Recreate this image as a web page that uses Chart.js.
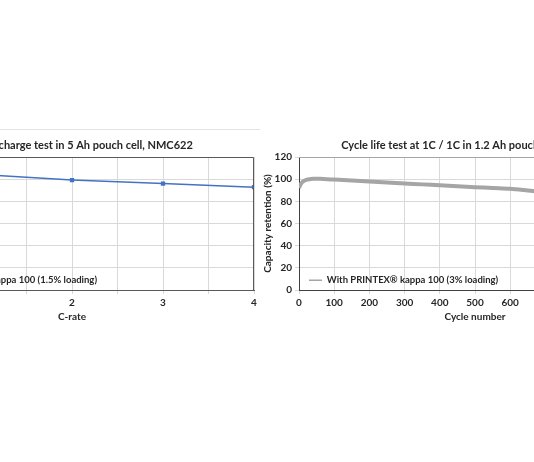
<!DOCTYPE html>
<html lang="en">
<head>
  <meta charset="UTF-8" />
  <title>PRINTEX kappa 100 - cell tests</title>
  <script src="https://cdn.jsdelivr.net/npm/chart.js"></script>
  <style>
    html, body {
      margin: 0;
      padding: 0;
      width: 534px;
      height: 462px;
      overflow: hidden;
      background: #fff;
    }
    .chart-box {
      position: absolute;
      top: 130px;
      height: 197px;
    }
    /* left chart is cut by the window edge */
    #box-rate {
      left: -270px;
      width: 530px;
      border-top: 1px solid #e3e3e3;
      top: 129px;
    }
    #box-cycle {
      left: 262px;
      width: 428px;
    }
  </style>
</head>
<body>

<div class="chart-box" id="box-rate"><canvas id="rateChart"></canvas></div>
<div class="chart-box" id="box-cycle"><canvas id="cycleChart"></canvas></div>

<script>
  // Rate test (5 Ah pouch cell)
  const cRates = [1, 2, 3, 4];
  const capacityAh = [5.21, 4.96, 4.80, 4.64];

  // Cycle life test (1.2 Ah pouch cell)
  const cycleNumbers = [0, 2, 5, 10, 15, 20, 30, 40, 50, 60, 80, 100, 150, 200, 250, 300, 350, 400, 450, 500, 550, 600, 650, 700, 750];
  const retention = [92, 93.5, 95.5, 97.5, 98.6, 99.3, 100, 100.3, 100.4, 100.3, 100, 99.6, 98.8, 97.9, 97, 96.1, 95.3, 94.5, 93.7, 92.8, 92, 91.3, 89.8, 88.2, 87];

  const txt = '#262626';
  const gridCol = '#d9d9d9';
  Chart.defaults.font.family = 'Lato, "Liberation Sans", sans-serif';
  Chart.defaults.font.weight = 'bold';
  Chart.defaults.color = txt;
  Chart.defaults.animation = false;

  // frame around the plot area (top + right side)
  const frame = {
    id: 'frame',
    afterDraw(chart, args, opts) {
      const a = chart.chartArea, ctx = chart.ctx;
      ctx.save();
      ctx.lineWidth = 1;
      ctx.strokeStyle = opts.color;
      ctx.beginPath();
      ctx.moveTo(a.left, a.top + 0.5);
      ctx.lineTo(a.right - 0.5, a.top + 0.5);
      ctx.lineTo(a.right - 0.5, a.bottom);
      ctx.stroke();
      ctx.restore();
    }
  };

  // legend in 'chartArea' mode is laid out from the canvas top, push it down into the plot
  const legendShift = {
    id: 'legendShift',
    afterLayout(chart) {
      const l = chart.legend;
      const off = chart.chartArea.top + 5;
      l.top += off;
      l.bottom += off;
    }
  };

  // thin line sample in the legend
  const lineLegend = chart =>
    Chart.defaults.plugins.legend.labels.generateLabels(chart)
      .map(l => ({ ...l, pointStyle: 'line', lineWidth: 1.5 }));

  const legendLabels = {
    usePointStyle: true,
    pointStyleWidth: 13,
    boxHeight: 6,
    font: { size: 9.5 },
    color: txt,
    generateLabels: lineLegend
  };

  new Chart(document.getElementById('rateChart'), {
    type: 'line',
    data: {
      datasets: [{
        label: 'With PRINTEX\u00ae kappa 100 (1.5% loading)',
        data: cRates.map((c, i) => ({ x: c, y: capacityAh[i] })),
        borderColor: '#4472c4',
        backgroundColor: '#4472c4',
        borderWidth: 1.5,
        pointStyle: 'rect',
        pointRadius: 2,
        tension: 0
      }]
    },
    plugins: [frame, legendShift],
    options: {
      responsive: true,
      maintainAspectRatio: false,
      layout: { padding: { left: 0, right: 6, top: 0, bottom: 0 } },
      plugins: {
        frame: { color: '#595959' },
        title: {
          display: true,
          fullSize: false,
          text: 'C-rate discharge test in 5 Ah pouch cell, NMC622',
          font: { size: 11, weight: 'bold' },
          color: txt,
          padding: { top: 8.4, bottom: 5.4 }
        },
        legend: { position: 'chartArea', align: 'end', labels: legendLabels },
        tooltip: { enabled: false }
      },
      scales: {
        x: {
          type: 'linear',
          min: 0,
          max: 4,
          ticks: {
            stepSize: 0.5,
            font: { size: 10 },
            callback: v => Number.isInteger(v) ? v : ''
          },
          grid: { color: gridCol, tickLength: 4 },
          border: { color: '#595959' },
          title: { display: true, text: 'C-rate', font: { size: 10 }, padding: { top: 2, bottom: 4 } },
          afterFit: s => { s.height = 37; }
        },
        y: {
          min: 0,
          max: 6,
          ticks: { stepSize: 1, font: { size: 10 } },
          grid: { color: gridCol, tickLength: 4 },
          border: { color: '#595959' },
          title: { display: true, text: 'Discharge capacity (Ah)', font: { size: 10 } },
          afterFit: s => { s.width = 160; }
        }
      }
    }
  });

  new Chart(document.getElementById('cycleChart'), {
    type: 'line',
    data: {
      datasets: [{
        label: 'With PRINTEX\u00ae kappa 100 (3% loading)',
        data: cycleNumbers.map((c, i) => ({ x: c, y: retention[i] })),
        borderColor: '#a5a5a5',
        backgroundColor: '#a5a5a5',
        borderWidth: 4,
        pointRadius: 0,
        tension: 0.3
      }]
    },
    plugins: [frame, legendShift],
    options: {
      responsive: true,
      maintainAspectRatio: false,
      layout: { padding: { left: 0, right: 39, top: 0, bottom: 0 } },
      plugins: {
        frame: { color: '#a6a6a6' },
        title: {
          display: true,
          fullSize: false,
          text: 'Cycle life test at 1C / 1C in 1.2 Ah pouch cell, NMC622',
          font: { size: 11, weight: 'bold' },
          color: txt,
          padding: { top: 8.4, bottom: 5.4 }
        },
        legend: { position: 'chartArea', align: 'end', labels: legendLabels },
        tooltip: { enabled: false }
      },
      scales: {
        x: {
          type: 'linear',
          min: 0,
          max: 1000,
          ticks: { stepSize: 100, font: { size: 10 } },
          grid: { color: gridCol, tickLength: 4 },
          border: { color: '#404040' },
          title: { display: true, text: 'Cycle number', font: { size: 10 }, padding: { top: 2, bottom: 4 } },
          afterFit: s => { s.height = 37; }
        },
        y: {
          min: 0,
          max: 120,
          ticks: { stepSize: 20, font: { size: 10 } },
          grid: { color: gridCol, tickLength: 4 },
          border: { color: '#404040' },
          title: { display: true, text: 'Capacity retention (%)', font: { size: 10 }, padding: { top: 0, bottom: 2 } },
          afterFit: s => { s.width = 37; }
        }
      }
    }
  });
</script>

</body>
</html>
